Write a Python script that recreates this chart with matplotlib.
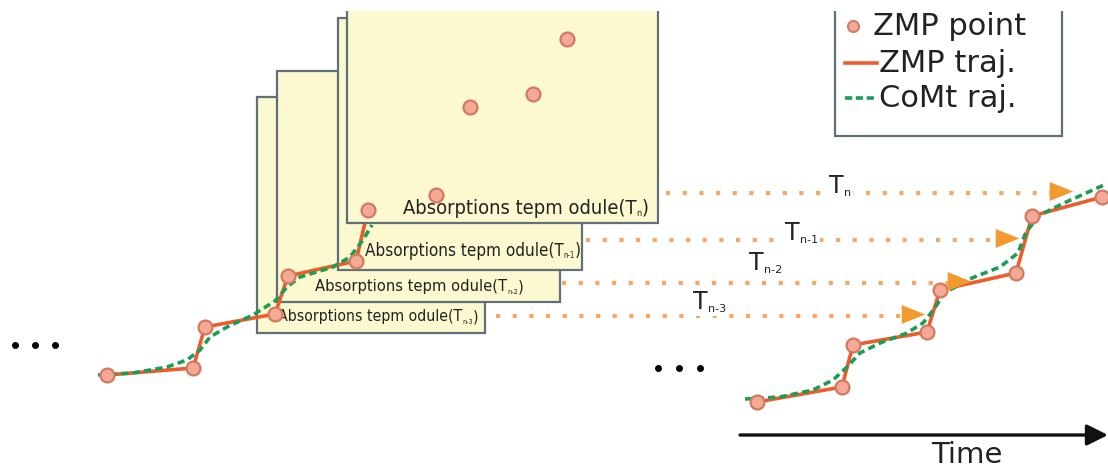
import matplotlib.pyplot as plt
from matplotlib.patches import Rectangle
from matplotlib.offsetbox import TextArea, HPacker, AnnotationBbox

# positions, in pixels (y grows downwards)
zmp_left_x = [107, 193, 205, 275, 288, 356, 368]
zmp_left_y = [375, 368, 327, 314, 276, 261, 210]
com_left_x = [98, 133, 167, 187, 200, 210, 227, 253, 275, 287, 300, 333, 350, 363, 372]
com_left_y = [375, 373, 367, 360, 350, 337, 327, 315, 301, 287, 277, 267, 257, 240, 225]

zmp_right_x = [757, 842, 853, 927, 940, 1016, 1032, 1102]
zmp_right_y = [402, 387, 345, 332, 290, 273, 216, 197]
com_right_x = [745, 780, 813, 833, 847, 860, 880, 907, 923, 935, 944, 972, 1000, 1018, 1026, 1040, 1064, 1104]
com_right_y = [399, 397, 390, 380, 367, 353, 343, 333, 323, 308, 293, 278, 267, 253, 232, 215, 203, 185]

# future ZMP points shown inside the front window
window_pts_x = [567, 533, 470, 436]
window_pts_y = [39, 94, 107, 195]

# stacked module windows, back to front
panel_left = [257, 277, 338, 347]
panel_top = [97, 71, 18, -10]
panel_right = [485, 560, 582, 658]
panel_bottom = [333, 302, 270, 223]
panel_subs = ['n-3', 'n-2', 'n-1', 'n']
label_x = [278, 315, 365, 403]
label_y = [317, 287, 251, 208]
label_width = [184, 191, 199, 233]   # width of "Absorptions tepm odule(T"

# dotted time rows, top to bottom
row_subs = ['n', 'n-1', 'n-2', 'n-3']
row_y = [193, 240, 283, 316]
row_start = [666, 586, 562, 496]
row_tip = [1072, 1018, 970, 924]
tlabel_x = [829, 785, 749, 693]
tlabel_y = [186, 233, 263, 302]

dots_left_x = [15, 35, 55]
dots_left_y = [345, 345, 345]
dots_right_x = [658, 679, 700]
dots_right_y = [368, 368, 368]

ORANGE = '#ef5b2b'
GREEN = '#1a9e55'
PT_FACE = '#f3a995'
PT_EDGE = '#d27a60'
DOT = '#f7a865'
ARROW = '#f39a2e'
PANEL = '#fcf8cf'
EDGE = '#5f7078'
INK = '#222222'

fig = plt.figure(figsize=(11.08, 4.71), dpi=100)
ax = fig.add_axes([0, 0, 1, 1])
ax.set_xlim(0, 1108)
ax.set_ylim(471, 0)
ax.axis('off')
renderer = fig.canvas.get_renderer()


def fit_size(text, width_px, **kw):
    t = ax.text(0, 0, text, fontsize=10, **kw)
    w = t.get_window_extent(renderer).width
    t.remove()
    return 10 * width_px / w


def sub_label(x, y, main, sub, tail, size, subsize, z, white=False, **kw):
    props = dict(fontsize=size, color=INK, **kw)
    sprops = dict(fontsize=subsize, color=INK, **kw)
    parts = [TextArea(main, textprops=props), TextArea(sub, textprops=sprops)]
    if tail:
        parts.append(TextArea(tail, textprops=props))
    box = HPacker(children=parts, align='bottom', pad=0, sep=0)
    ab = AnnotationBbox(box, (x, y), xycoords='data', box_alignment=(0, 0.5),
                        frameon=white, pad=0.15, zorder=z,
                        bboxprops=dict(fc='white', ec='none'))
    ax.add_artist(ab)


cond = dict(family='DejaVu Sans', stretch='condensed')

# module windows with their captions
for i in range(4):
    z = 1 + i * 1.5 if i < 3 else 6
    ax.add_patch(Rectangle((panel_left[i], panel_top[i]),
                           panel_right[i] - panel_left[i],
                           panel_bottom[i] - panel_top[i],
                           fc=PANEL, ec=EDGE, lw=1.6, zorder=z))
    size = fit_size('Absorptions tepm odule(T', label_width[i], **cond)
    sub_label(label_x[i], label_y[i], 'Absorptions tepm odule(T', panel_subs[i], ')',
              size, size * 0.45, z + 0.2, **cond)

# left trajectory (runs behind the front window)
ax.plot(zmp_left_x, zmp_left_y, color=ORANGE, lw=2.6, zorder=5)
ax.plot(com_left_x, com_left_y, color=GREEN, lw=2.6, dashes=(2, 1.2), zorder=5.2)
ax.plot(zmp_left_x, zmp_left_y, 'o', ms=10, mfc=PT_FACE, mec=PT_EDGE, mew=1.6, zorder=8)
ax.plot(window_pts_x, window_pts_y, 'o', ms=10, mfc=PT_FACE, mec=PT_EDGE, mew=1.6, zorder=8)

# dotted rows with arrowheads
for i in range(4):
    ax.plot([row_start[i], row_tip[i] - 20], [row_y[i], row_y[i]], color=DOT,
            lw=3, dashes=(1, 3), solid_capstyle='butt', zorder=3)
    ax.plot(row_tip[i] - 11, row_y[i] - 2, marker=[(-1, -0.8), (1, 0), (-1, 0.8)],
            ms=17, color=ARROW, mec='none', zorder=9)
    sub_label(tlabel_x[i], tlabel_y[i], 'T', row_subs[i], None, 17, 8, 4,
              white=True, family='DejaVu Sans')

# right trajectory
ax.plot(zmp_right_x, zmp_right_y, color=ORANGE, lw=2.6, zorder=5)
ax.plot(com_right_x, com_right_y, color=GREEN, lw=2.6, dashes=(2, 1.2), zorder=5.2)
ax.plot(zmp_right_x, zmp_right_y, 'o', ms=10, mfc=PT_FACE, mec=PT_EDGE, mew=1.6, zorder=8)

# ellipses
ax.plot(dots_left_x, dots_left_y, 'o', ms=4, color='black', zorder=5)
ax.plot(dots_right_x, dots_right_y, 'o', ms=4, color='black', zorder=5)

# time axis
ax.annotate('', xy=(1108, 435), xytext=(740, 435),
            arrowprops=dict(arrowstyle='-|>', lw=2.4, color='#111111',
                            mutation_scale=32, shrinkA=0, shrinkB=0))
ax.text(967, 463, 'Time', fontsize=21, ha='center', va='baseline', color=INK)

# legend box
ax.add_patch(Rectangle((835, -10), 227, 146, fc='white', ec=EDGE, lw=1.6, zorder=10))
ax.plot(853, 26, 'o', ms=8, mfc=PT_FACE, mec=PT_EDGE, mew=1.4, zorder=11)
ax.plot([845, 877], [63, 63], color=ORANGE, lw=2.6, zorder=11)
ax.plot([845, 877], [98, 98], color=GREEN, lw=2.6, dashes=(2, 1), zorder=11)
ax.text(873, 35, 'ZMP point', fontsize=22, va='baseline', color=INK, zorder=11)
ax.text(879, 72, 'ZMP traj.', fontsize=22, va='baseline', color=INK, zorder=11)
ax.text(879, 107, 'CoMt raj.', fontsize=22, va='baseline', color=INK, zorder=11)

# blank strip along the top edge
ax.add_patch(Rectangle((0, -20), 1108, 31, fc='white', ec='none', zorder=20))

fig.savefig('out.png', dpi=100)
